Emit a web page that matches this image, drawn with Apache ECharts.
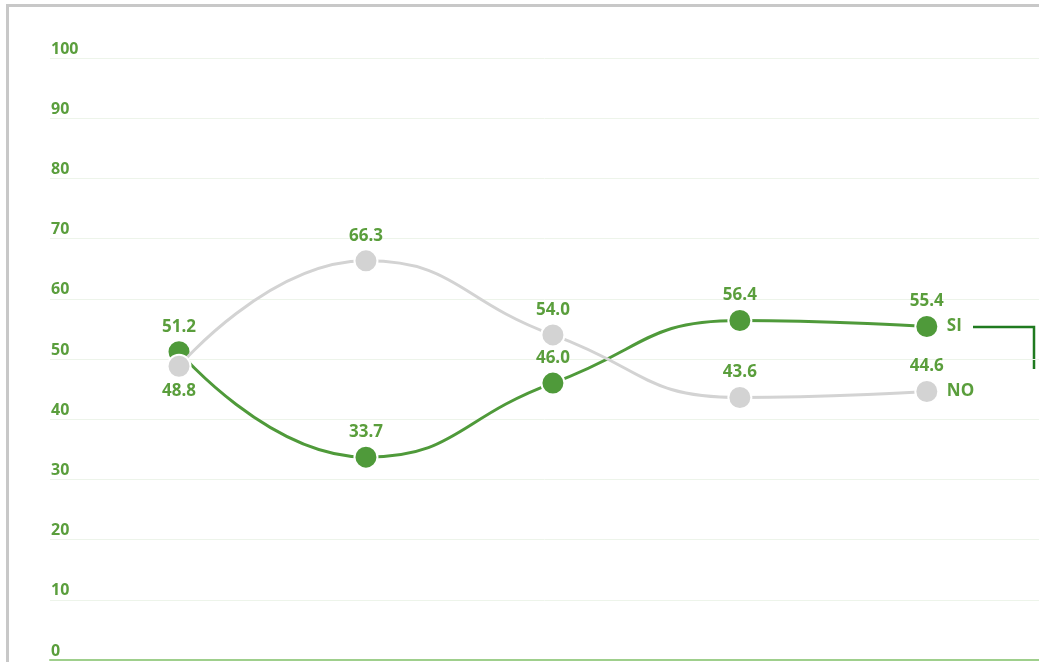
<!DOCTYPE html>
<html>
<head>
<meta charset="utf-8">
<script src="https://cdn.jsdelivr.net/npm/echarts@6/dist/echarts.min.js"></script>
<style>
html, body { margin: 0; padding: 0; background: #fff; }
.frame {
    position: absolute;
    left: 6px;
    top: 4px;
    width: 1040px;
    height: 670px;
    border-top: 3px solid #c8c8c8;
    border-left: 3px solid #c8c8c8;
}
#chart { position: absolute; left: 0; top: 0; width: 1039px; height: 662px; }
</style>
</head>
<body>
<div class="frame"></div>
<div id="chart"></div>
<script>
// valori
const points = [0, 1, 2, 3, 4]
const siValues = [51.2, 33.7, 46.0, 56.4, 55.4]
const noValues = [48.8, 66.3, 54.0, 43.6, 44.6]
const noLabelPos = ['bottom', 'top', 'top', 'top', 'top']
const yTicks = [0, 10, 20, 30, 40, 50, 60, 70, 80, 90, 100]

const green = '#4f9a3a'
const labelGreen = '#5a9e3c'
const grey = '#d3d3d3'

const chart = echarts.init(document.getElementById('chart'))

const labelStyle = {
    show: true,
    color: labelGreen,
    fontFamily: 'Open Sans',
    fontWeight: 'bold',
    fontSize: 17,
    distance: 4,
    formatter: p => p.value[1].toFixed(1)
}

const endLabelStyle = {
    show: true,
    formatter: '{a}',
    color: labelGreen,
    fontFamily: 'Open Sans',
    fontWeight: 'bold',
    fontSize: 17,
    distance: 20
}

chart.setOption({
    animation: false,
    grid: { left: 50, right: 0, top: 58, bottom: 2, containLabel: false },
    xAxis: {
        type: 'value',
        min: -0.69,
        max: 4.6,
        axisLine: { show: true, onZero: false, lineStyle: { color: '#9fcf8c', width: 2 } },
        axisTick: { show: false },
        axisLabel: { show: false },
        splitLine: { show: false }
    },
    yAxis: {
        type: 'value',
        min: yTicks[0],
        max: yTicks[yTicks.length - 1],
        interval: 10,
        axisLine: { show: false },
        axisTick: { show: false },
        axisLabel: {
            inside: true,
            margin: 1,
            verticalAlign: 'bottom',
            color: labelGreen,
            fontFamily: 'Open Sans',
            fontWeight: 'bold',
            fontSize: 16,
            lineHeight: 18
        },
        splitLine: { lineStyle: { color: '#edf4ea', width: 1 } }
    },
    series: [{
        name: 'SI',
        type: 'line',
        smooth: 0.5,
        data: points.map((x, i) => [x, siValues[i]]),
        symbol: 'circle',
        symbolSize: 23,
        lineStyle: { color: green, width: 3 },
        itemStyle: { color: green, borderColor: '#fff', borderWidth: 2 },
        label: Object.assign({}, labelStyle, { position: 'top' }),
        endLabel: endLabelStyle,
        z: 2
    }, {
        name: 'NO',
        type: 'line',
        smooth: 0.5,
        data: points.map((x, i) => ({ value: [x, noValues[i]], label: { position: noLabelPos[i] } })),
        symbol: 'circle',
        symbolSize: 23,
        lineStyle: { color: grey, width: 3 },
        itemStyle: { color: grey, borderColor: '#fff', borderWidth: 2 },
        label: Object.assign({}, labelStyle),
        endLabel: endLabelStyle,
        z: 3
    }],
    graphic: [{
        type: 'polyline',
        shape: { points: [[973, 327], [1034, 327], [1034, 369]] },
        style: { stroke: '#1f7a1f', lineWidth: 2.5, fill: null }
    }]
})
</script>
</body>
</html>
